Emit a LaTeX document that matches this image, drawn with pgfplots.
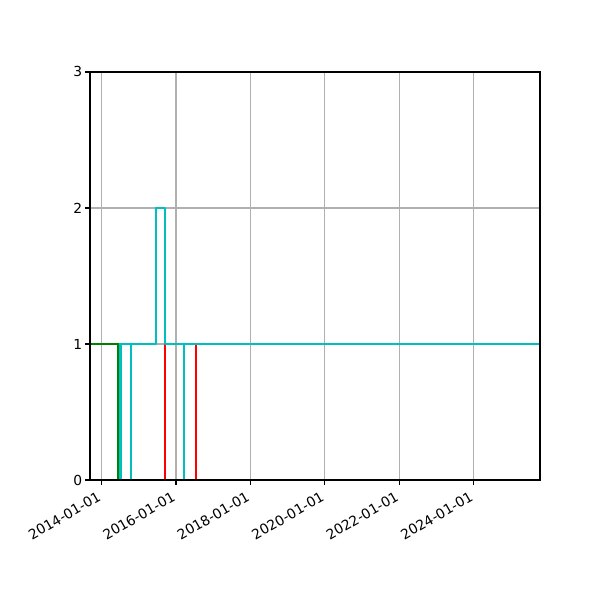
\documentclass[border=0pt]{standalone}
\usepackage{fontspec}
\setmainfont{DejaVu Sans}
\usepackage{pgfplots}
\pgfplotsset{compat=1.18}
\definecolor{mgreen}{RGB}{0,128,0}
\definecolor{mcyan}{RGB}{0,191,191}
\definecolor{mred}{RGB}{255,0,0}
\definecolor{mgrid}{RGB}{176,176,176}
\begin{document}
\begin{tikzpicture}
\begin{axis}[
  name=ax, at={(0,0)}, anchor=south west,
  width=325.2pt, height=294.9pt, scale only axis,
  xmin=2013.691, xmax=2025.778, ymin=0, ymax=3,
  xtick={2014,2016,2018,2020,2022,2024},
  xticklabels={2014-01-01,2016-01-01,2018-01-01,2020-01-01,2022-01-01,2024-01-01},
  ytick={0,1,2,3},
  grid=major, grid style={mgrid, line width=0.8pt},
  axis line style={line width=0.8pt},
  tick align=outside, xtick pos=left, ytick pos=left,
  major tick length=3.5pt,
  tick style={black, line width=0.8pt},
  xticklabel style={rotate=30, anchor=north east, inner sep=2pt, xshift=-3.2pt},
  yticklabel style={inner sep=2pt},
  font=\fontsize{10}{12}\selectfont,
  /pgf/number format/assume math mode=true,
  clip mode=individual,
]
% green series
\addplot[mgreen, line width=1.5pt, line join=round] coordinates {
(2013.691,1) (2014.457,1) (2014.457,0) (2025.778,0)
};
% red series
\addplot[mred, line width=1.5pt, line join=round] coordinates {
(2014.510,0) (2015.706,0) (2015.706,1) (2016.538,1) (2016.538,0) (2025.778,0)
};
% cyan series
\addplot[mcyan, line width=1.5pt, line join=round] coordinates {
(2013.691,0) (2014.510,0) (2014.510,1) (2014.788,1) (2014.788,0) (2014.796,0) (2014.796,1)
(2015.464,1) (2015.464,2) (2015.706,2) (2015.706,1)
(2016.212,1) (2016.212,0) (2016.220,0) (2016.220,1) (2025.778,1)
};
\draw[black, line width=0.8pt] (rel axis cs:0,0) rectangle (rel axis cs:1,1);
\end{axis}
\pgfresetboundingbox
\useasboundingbox (-65.04pt,-86.72pt) rectangle (368.58pt,346.9pt);
\end{tikzpicture}
\end{document}
